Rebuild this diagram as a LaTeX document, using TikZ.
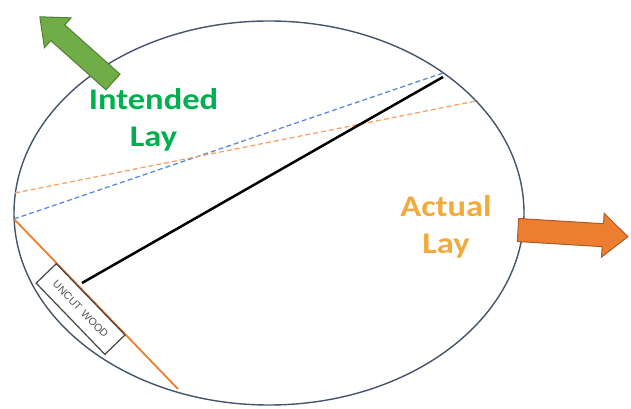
\documentclass[tikz,border=0pt]{standalone}
\usepackage{fontspec}
\setmainfont{Carlito}
\newfontfamily\woodfont{Liberation Sans}
\usetikzlibrary{shapes.geometric}
\definecolor{logblue}{HTML}{44546A}
\definecolor{dashblue}{HTML}{5B8BD6}
\definecolor{dashorange}{HTML}{F4A36B}
\definecolor{cutorange}{HTML}{ED7D31}
\definecolor{greenfill}{HTML}{70AD47}
\definecolor{greenedge}{HTML}{507E32}
\definecolor{orangefill}{HTML}{ED7D31}
\definecolor{orangeedge}{HTML}{AE5A21}
\definecolor{intgreen}{HTML}{00B050}
\definecolor{actgold}{HTML}{F3AA3C}
\definecolor{woodgray}{HTML}{505050}
\tikzset{
  logline/.style={draw=logblue, line width=1.4pt},
  dashline/.style={line width=1.3pt, dash pattern=on 5pt off 3pt},
  laylabel/.style={align=center, font=\bfseries\fontsize{30}{37}\selectfont, inner sep=0pt, xscale=1.15},
  woodbox/.style={draw=woodgray!85!black, line width=1.2pt, minimum width=99pt, minimum height=28pt, inner sep=0pt, text=woodgray, font=\woodfont\fontsize{10.5}{11}\selectfont},
  bigarrow/.style={line width=1pt, line join=miter}
}
\begin{document}
\begin{tikzpicture}[x=1pt,y=1pt]
\useasboundingbox (0,0) rectangle (631,409);
% log cross-section
\node[ellipse, logline, minimum width=510pt, minimum height=384pt, inner sep=0pt] (log) at (269,196) {};
% key points
\coordinate (bl) at (14,190);
\coordinate (br) at (443,336);
\coordinate (ol) at (15,216);
\coordinate (or) at (476,308);
\coordinate (cb) at (178,20);
\coordinate (k1) at (82,126);
\coordinate (k2) at (443,332);
% lay lines
\draw[dashline, draw=dashblue] (bl) -- (br);
\draw[dashline, draw=dashorange] (ol) -- (or);
\draw[draw=cutorange, line width=1.8pt] (bl) -- (cb)
  node[pos=0.47, sloped, anchor=north, woodbox] (wood) {UNCUT\hspace{0.4em}WOOD};
\draw[black, line width=2.5pt] (k1) -- (k2);
% arrows
\begin{scope}[shift={(113,327)}, rotate=138.3]
  \filldraw[bigarrow, fill=greenfill, draw=greenedge]
    (0,-10.5) -- (74,-10.5) -- (74,-20) -- (98,0) -- (74,20) -- (74,10.5) -- (0,10.5) -- cycle;
\end{scope}
\begin{scope}[shift={(518,179)}, rotate=-3.5]
  \filldraw[bigarrow, fill=orangefill, draw=orangeedge]
    (0,-11.5) -- (85,-11.5) -- (85,-22) -- (110,0) -- (85,22) -- (85,11.5) -- (0,11.5) -- cycle;
\end{scope}
% labels
\node[laylabel, text=intgreen] (intended) at (153.5,289.5) {Intended\\Lay};
\node[laylabel, text=actgold] (actual) at (446,182) {Actual\\Lay};
\end{tikzpicture}
\end{document}
